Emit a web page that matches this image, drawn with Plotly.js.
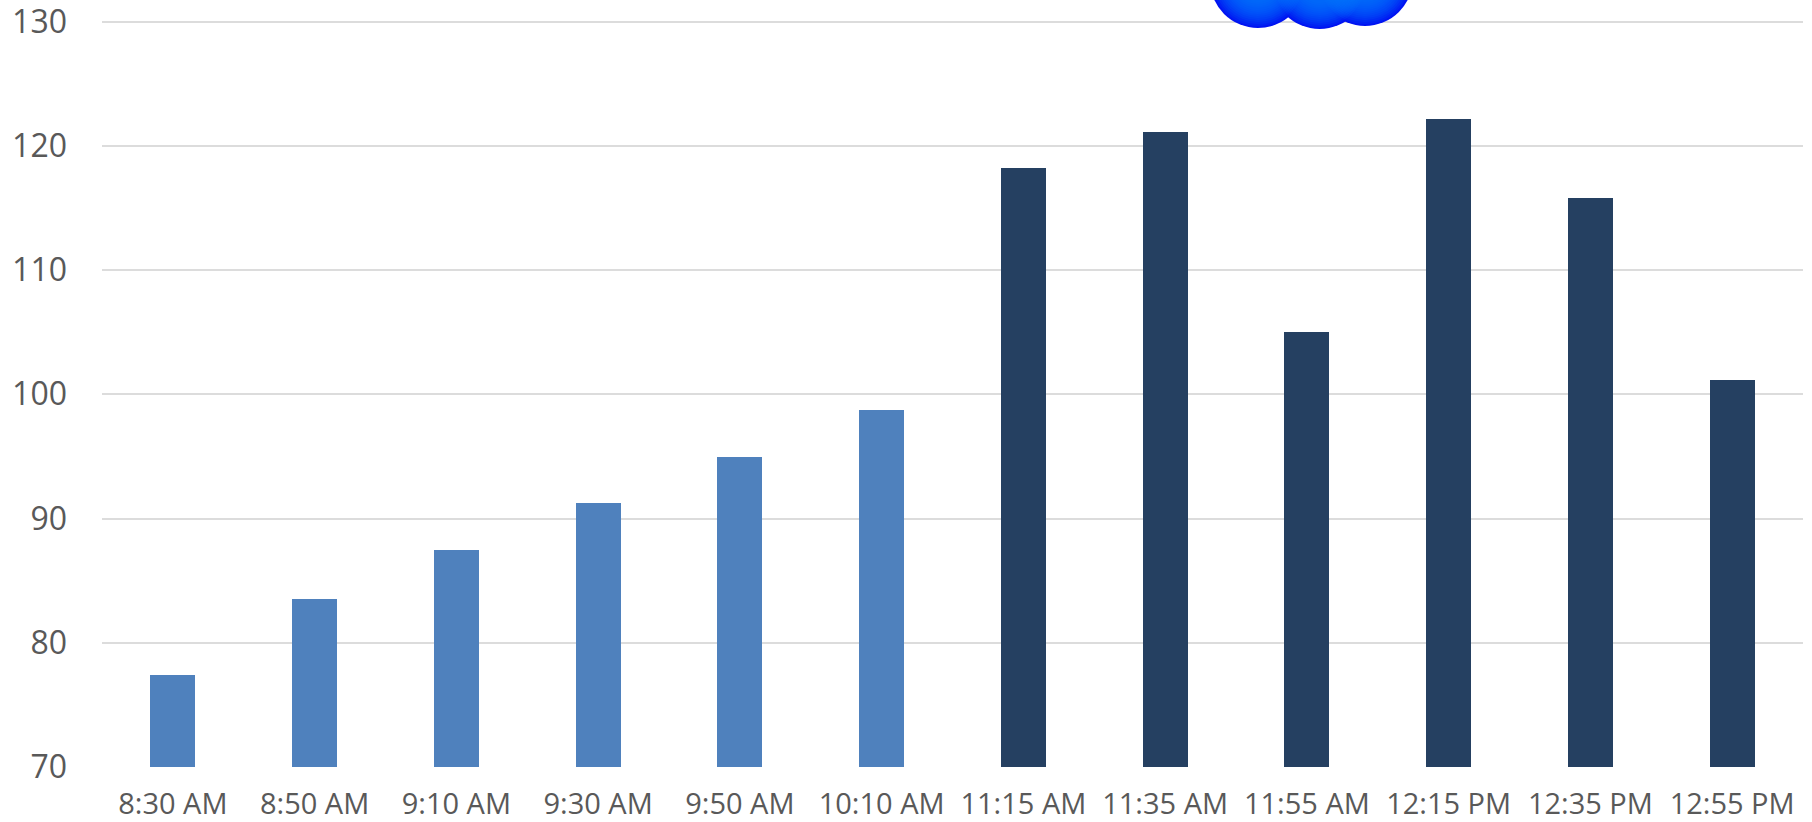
<!DOCTYPE html>
<html>
<head>
<meta charset="utf-8">
<script src="https://cdn.plot.ly/plotly-3.0.1.min.js"></script>
<style>html,body{margin:0;padding:0;background:#fff}#chart{width:1812px;height:822px}</style>
</head>
<body>
<div id="chart"></div>
<script>
// Time slots along the axis and the value measured in each slot
const timeLabels = ['8:30 AM','8:50 AM','9:10 AM','9:30 AM','9:50 AM','10:10 AM','11:15 AM','11:35 AM','11:55 AM','12:15 PM','12:35 PM','12:55 PM'];
const slotPositions = [0,1,2,3,4,5,6,7,8,9,10,11];
const measuredValues = [77.4,83.5,87.45,91.25,94.95,98.7,118.2,121.1,105,122.15,115.8,101.15];
const barColors = ['#4f81bd','#4f81bd','#4f81bd','#4f81bd','#4f81bd','#4f81bd','#254061','#254061','#254061','#254061','#254061','#254061'];
const yTicks = [70,80,90,100,110,120,130];

// Blue cloud sitting across the top edge of the chart
const cloudX = [7.655,8.09,8.41];
const cloudY = [133.34,133.26,133.5];
const cloudSize = 96;
const glowSizes = [92,88,84,80,76,72,68,64,60,56,52,48,44];

const textFont = '"Open Sans", "Noto Sans", sans-serif';

function cloudLayer(size, color, opacity) {
  return {
    type: 'scatter', mode: 'markers', x: cloudX, y: cloudY, cliponaxis: true,
    hoverinfo: 'skip', showlegend: false,
    marker: {size: size, color: color, opacity: opacity, line: {width: 0}}
  };
}

const traces = [
  // Deep blue silhouette, then thin translucent rings building up a soft glow
  cloudLayer(cloudSize, '#0014f2', 1),
  ...glowSizes.map(s => cloudLayer(s, '#007dff', 0.13)),
  {
    type: 'bar', x: slotPositions, y: measuredValues, width: 0.317,
    marker: {color: barColors, line: {width: 0}}, showlegend: false
  }
];

const layout = {
  width: 1812, height: 822,
  margin: {l: 102, r: 9, t: 0, b: 55, pad: 0},
  paper_bgcolor: '#ffffff', plot_bgcolor: '#ffffff',
  showlegend: false,
  bargap: 0,
  xaxis: {
    type: 'linear', range: [-0.5, 11.5],
    tickmode: 'array', tickvals: slotPositions, ticktext: timeLabels,
    tickfont: {family: textFont, size: 29, color: '#595959'},
    showgrid: false, zeroline: false, showline: false, ticks: '',
    ticklen: 0, tickangle: 0, automargin: false,
    ticklabelstandoff: 17, ticklabeloverflow: 'allow'
  },
  yaxis: {
    range: [70, 131.73],
    tickmode: 'array', tickvals: yTicks,
    tickfont: {family: textFont, size: 32, color: '#595959'},
    showgrid: true, gridcolor: '#dcdcdc', gridwidth: 2,
    zeroline: false, showline: false, ticks: '', automargin: false,
    ticklabelstandoff: 34, ticklabeloverflow: 'allow'
  }
};

Plotly.newPlot('chart', traces, layout, {displayModeBar: false, staticPlot: true});
</script>
</body>
</html>
